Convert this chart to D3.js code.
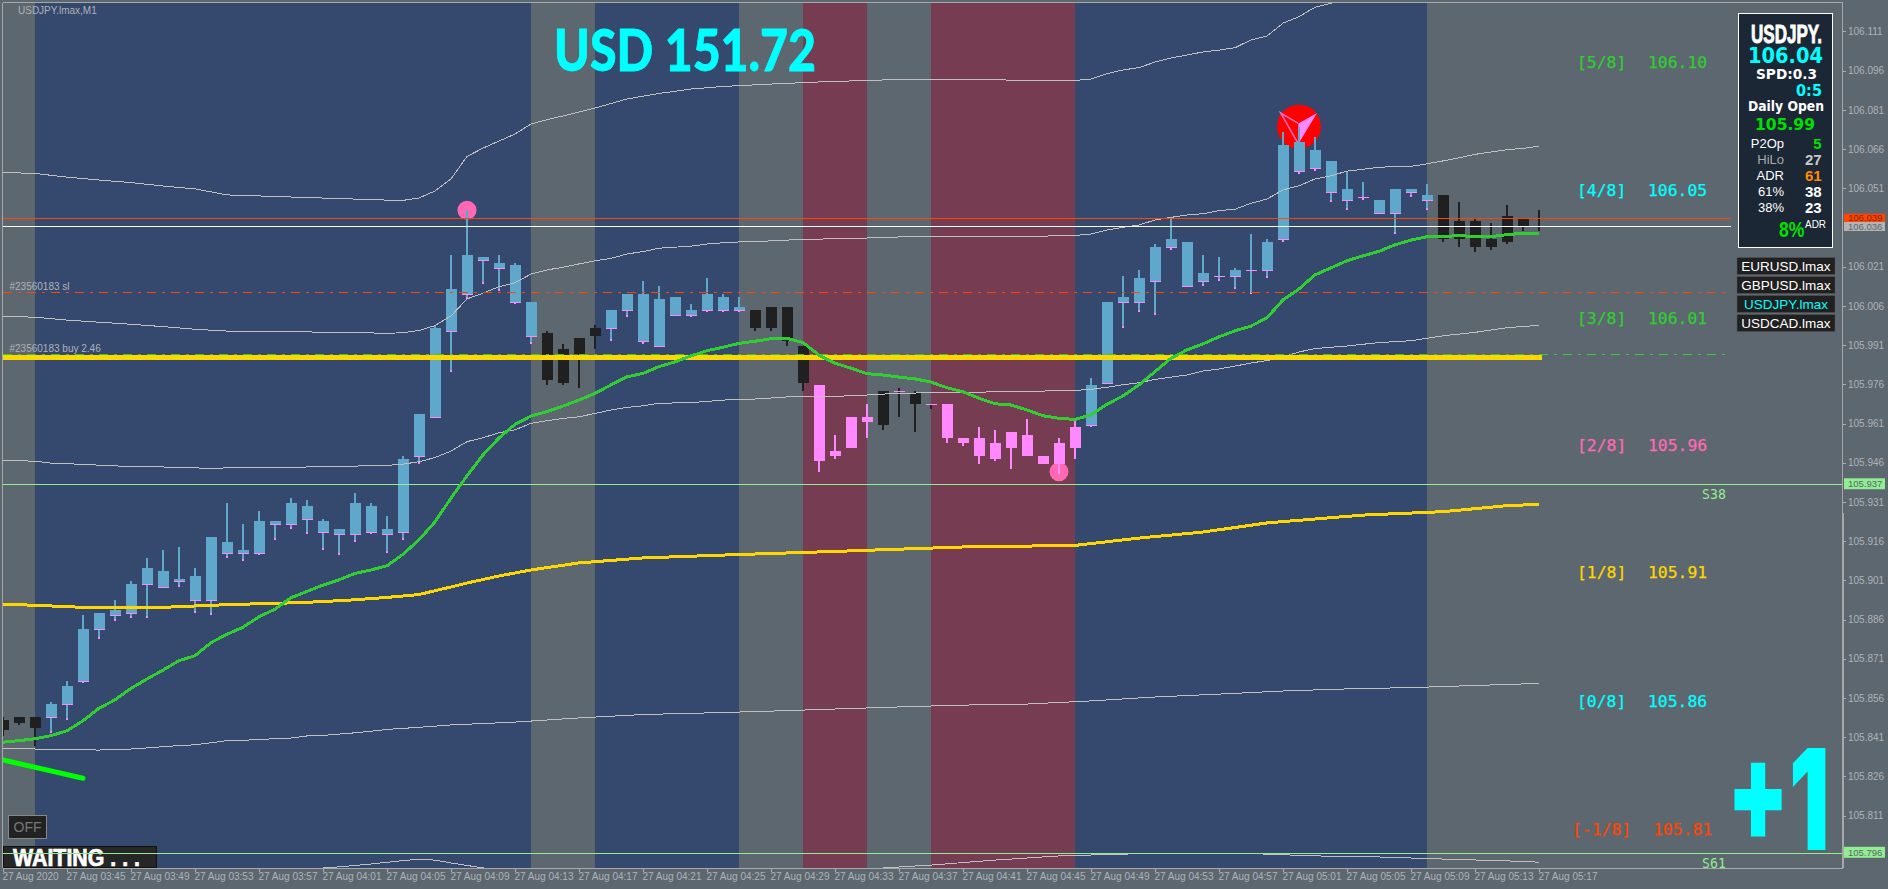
<!DOCTYPE html>
<html><head><meta charset="utf-8">
<script src="https://cdn.jsdelivr.net/npm/d3@7/dist/d3.min.js"></script>
<style>
html,body{margin:0;padding:0;background:#5C6770;overflow:hidden}
svg{display:block}
text{font-family:"Liberation Sans",sans-serif}
.axis path{display:none}
.axis text{font-family:"Liberation Sans",sans-serif;font-size:10px;fill:#AEB3B7}
.axis line{stroke:#A8ADB1;shape-rendering:crispEdges}
</style></head><body>
<script>
// ---------- candle data ----------
const bodyTop=[105.847,105.848,105.848,105.853,105.860,105.882,105.888,105.889,105.899,105.905,105.904,105.901,105.902,105.917,105.915,105.912,105.923,105.923,105.930,105.929,105.923,105.920,105.930,105.929,105.920,105.947,105.964,105.997,106.012,106.025,106.024,106.022,106.021,106.007,105.995,105.989,105.993,105.997,106.004,106.010,106.010,106.008,106.009,106.004,106.010,106.009,106.005,106.004,106.005,106.005,105.990,105.975,105.950,105.963,105.963,105.973,105.973,105.972,105.968,105.968,105.955,105.955,105.953,105.957,105.956,105.948,105.953,105.959,105.975,106.007,106.009,106.016,106.028,106.031,106.030,106.018,106.017,106.019,106.019,106.030,106.067,106.068,106.065,106.061,106.050,106.047,106.046,106.050,106.050,106.048,106.048,106.038,106.038,106.031,106.040,106.039,106.036];
const bodyBot=[105.843,105.846,105.844,105.848,105.853,105.862,105.882,105.887,105.888,105.899,105.898,105.900,105.893,105.893,105.911,105.911,105.911,105.922,105.922,105.924,105.919,105.918,105.918,105.919,105.918,105.919,105.948,105.963,105.996,106.010,106.023,106.020,106.007,105.994,105.977,105.976,105.987,105.994,105.997,106.004,105.992,105.990,106.002,106.002,106.004,106.004,106.004,105.997,105.997,105.992,105.976,105.946,105.948,105.951,105.961,105.960,105.973,105.968,105.968,105.955,105.953,105.948,105.947,105.951,105.948,105.945,105.945,105.951,105.960,105.976,106.007,106.007,106.015,106.028,106.013,106.015,106.017,106.017,106.019,106.019,106.031,106.057,106.058,106.049,106.046,106.047,106.041,106.041,106.049,106.046,106.031,106.031,106.028,106.028,106.030,106.036,106.036];
const high=[105.848,105.848,105.848,105.854,105.862,105.887,105.888,105.893,105.900,105.909,105.912,105.913,105.905,105.917,105.930,105.922,105.927,105.923,105.932,105.931,105.924,105.920,105.934,105.930,105.925,105.948,105.964,105.998,106.025,106.042,106.024,106.025,106.022,106.007,105.996,105.991,105.993,105.998,106.004,106.010,106.015,106.013,106.009,106.006,106.016,106.010,106.009,106.004,106.005,106.005,105.990,105.975,105.956,105.963,105.968,105.973,105.974,105.973,105.968,105.968,105.955,105.959,105.958,105.957,105.962,105.948,105.955,105.962,105.978,106.007,106.017,106.019,106.029,106.039,106.030,106.025,106.024,106.020,106.033,106.031,106.072,106.074,106.070,106.061,106.057,106.053,106.046,106.050,106.050,106.052,106.048,106.045,106.039,106.037,106.044,106.039,106.042];
const low=[105.841,105.845,105.837,105.842,105.847,105.861,105.878,105.885,105.886,105.886,105.898,105.898,105.888,105.887,105.909,105.908,105.910,105.916,105.920,105.918,105.912,105.910,105.915,105.918,105.911,105.916,105.945,105.963,105.980,106.008,106.014,106.011,106.006,105.991,105.975,105.975,105.974,105.989,105.992,106.001,105.991,105.990,106.002,106.001,106.003,106.003,106.003,105.996,105.996,105.990,105.973,105.942,105.947,105.951,105.955,105.958,105.963,105.957,105.966,105.953,105.952,105.945,105.946,105.943,105.948,105.945,105.941,105.947,105.959,105.976,105.997,106.003,106.002,106.027,106.013,106.013,106.015,106.012,106.010,106.016,106.030,106.056,106.057,106.045,106.042,106.046,106.041,106.033,106.047,106.042,106.030,106.028,106.026,106.027,106.029,106.034,106.034];

// ---------- moving average, one value per bar ----------
const greenMA=[105.8385,105.8391,105.8398,105.841,105.8429,105.8467,105.8515,105.8547,105.8591,105.8627,105.8661,105.8697,105.8716,105.8766,105.8798,105.8825,105.8865,105.8894,105.8938,105.8962,105.8986,105.9006,105.9031,105.9044,105.906,105.9104,105.9159,105.9228,105.9319,105.9404,105.9484,105.9549,105.9601,105.9633,105.965,105.9671,105.9694,105.972,105.9752,105.9783,105.9796,105.9822,105.984,105.9863,105.9883,105.9896,105.9911,105.9919,105.9929,105.993,105.9914,105.9866,105.9835,105.9816,105.9795,105.979,105.9782,105.9775,105.9763,105.9741,105.9726,105.9701,105.968,105.9675,105.9656,105.9634,105.9624,105.962,105.9637,105.9678,105.971,105.9752,105.9803,105.9854,105.9886,105.9909,105.9936,105.9959,105.9977,106.0009,106.0077,106.0119,106.0173,106.02,106.0227,106.0246,106.0263,106.0288,106.0306,106.0319,106.0319,106.0324,106.0319,106.0319,106.0327,106.0332,106.0332];

// ---------- slower lines: bar index and price read at that bar ----------
const yellowIdx=[0,2,5,10,13,15,18,20,22,24,26,28,29,31,33,36,40,45,52,60,67,71,75,79,85,90,94,96];
const yellowVal=[105.8913,105.8909,105.8901,105.8901,105.8909,105.8913,105.8918,105.8923,105.893,105.8939,105.895,105.8979,105.8994,105.9021,105.9044,105.9071,105.909,105.9101,105.9115,105.9132,105.9138,105.9166,105.9189,105.9224,105.9254,105.9267,105.929,105.9295];
const bandAIdx=[0,2,4,6,8,10,12,14,16,18,20,22,24,25,26,27,28,29,30,31,32,33,34,35,36,37,39,41,43,45,48,51,54,57,62,63,67,68,69,70,71,72,73,74,75,76,77,78,79,80,81,82,83,84];
const bandAVal=[106.0565,106.0561,106.0547,106.0536,106.0526,106.0513,106.0502,106.0479,106.0475,106.0471,106.0467,106.0463,106.0459,106.0458,106.0467,106.0494,106.054,106.0626,106.0658,106.0685,106.0712,106.075,106.0767,106.0781,106.0796,106.0811,106.0846,106.0867,106.0884,106.0894,106.0903,106.0911,106.0917,106.0922,106.0922,106.0917,106.0917,106.0922,106.0943,106.0957,106.0966,106.0987,106.1003,106.1014,106.1026,106.1033,106.1042,106.1072,106.1087,106.1136,106.1161,106.1197,106.1212,106.1255];
const bandBIdx=[0,2,4,6,8,10,12,14,16,18,20,22,24,25,26,27,28,29,30,31,32,33,34,35,36,37,38,39,40,41,42,43,44,45,46,48,50,52,54,56,60,64,67,68,69,70,71,72,73,74,75,76,77,78,79,80,81,82,83,84,85,86,87,88,89,90,91,92,93,94,95,96];
const bandBVal=[106.0015,106.0011,106.0000,105.9992,105.9984,105.9975,105.9965,105.9958,105.9957,105.9957,105.9953,105.9953,105.9949,105.9952,105.996,105.9979,106.0016,106.0081,106.0103,106.0128,106.0143,106.0176,106.0192,106.0202,106.0215,106.0227,106.0236,106.0253,106.0262,106.0275,106.0279,106.0283,106.0291,106.0296,106.0299,106.0303,106.0309,106.0311,106.0314,106.0318,106.032,106.032,106.0324,106.0329,106.0345,106.0355,106.0364,106.0383,106.0393,106.0402,106.0407,106.0419,106.0424,106.0447,106.0463,106.0498,106.0514,106.054,106.0552,106.057,106.0577,106.0585,106.0587,106.0588,106.0598,106.0609,106.0621,106.0634,106.0643,106.0652,106.0657,106.0665];
const bandCIdx=[0,2,3,5,7,10,12,13,14,18,20,24,25,26,27,28,29,30,31,32,33,34,35,36,37,38,39,40,41,43,45,47,49,51,53,55,57,61,63,66,67,68,69,70,71,72,73,74,75,76,77,78,79,80,81,82,84,86,88,90,92,94,96];
const bandCVal=[105.9464,105.946,105.9453,105.9448,105.9442,105.9438,105.9435,105.9431,105.9435,105.9437,105.9439,105.9444,105.9449,105.9458,105.9474,105.9499,105.9535,105.955,105.9569,105.958,105.9605,105.9615,105.9624,105.963,105.9643,105.9656,105.9666,105.9672,105.9682,105.9684,105.9694,105.9698,105.9706,105.9708,105.971,105.9717,105.9721,105.9724,105.9728,105.9729,105.9731,105.9735,105.9743,105.9753,105.976,105.9773,105.9782,105.979,105.9805,105.9813,105.9824,105.9836,105.9845,105.9859,105.9878,105.9891,105.9901,105.9914,105.9921,105.994,105.9953,105.9971,105.998];
const bandDIdx=[0,2,6,8,9,10,11,12,13,14,15,16,17,18,19,20,21,22,23,24,25,26,28,32,36,40,44,48,52,56,60,64,68,72,76,80,84,88,92,94,96];
const bandDVal=[105.8362,105.8359,105.8355,105.8359,105.8363,105.8368,105.8372,105.8375,105.8383,105.8391,105.8392,105.8396,105.8398,105.8401,105.8409,105.8411,105.8416,105.8421,105.8427,105.8434,105.8438,105.8442,105.8451,105.8462,105.8478,105.8491,105.8497,105.8504,105.8512,105.852,105.8527,105.8531,105.8543,105.8558,105.8569,105.8581,105.8589,105.8594,105.8602,105.8606,105.861];
const bandEIdx=[0,19,20,21,23,25,26,27,28,30,40,50,55,58,62,66,70,74,78,82,86,90,94,96];
const bandEVal=[105.785,105.785,105.7904,105.7908,105.7919,105.7932,105.7937,105.7934,105.7923,105.7904,105.785,105.785,105.7904,105.7915,105.7934,105.795,105.7957,105.7961,105.7959,105.795,105.7946,105.7938,105.7931,105.7926];

// ---------- time zones behind the candles (bar index ranges) ----------
const zoneStart=[0,2,33,37,46,50,54,58,67,89];
const zoneEnd=[2,33,37,46,50,54,58,67,89,116];
const zoneKind=["grey","blue","grey","blue","grey","red","grey","red","blue","grey"];

// ---------- horizontal levels ----------
const lastPrice=106.036, askPrice=106.039, stopPrice=106.0106, entryPrice=105.9869, thickPrice=105.9858;
const s38Price=105.937, s61Price=105.796;
const lineEndIdx=108, fullEndIdx=115, thickEndIdx=96.2;

// ---------- axes ----------
const yTicks=[106.111,106.096,106.081,106.066,106.051,106.021,106.006,105.991,105.976,105.961,105.946,105.931,105.916,105.901,105.886,105.871,105.856,105.841,105.826,105.811];
const xTickIdx=[0,4,8,12,16,20,24,28,32,36,40,44,48,52,56,60,64,68,72,76,80,84,88,92,96];
const xTickLabels=["27 Aug 2020","27 Aug 03:45","27 Aug 03:49","27 Aug 03:53","27 Aug 03:57","27 Aug 04:01","27 Aug 04:05","27 Aug 04:09","27 Aug 04:13","27 Aug 04:17","27 Aug 04:21","27 Aug 04:25","27 Aug 04:29","27 Aug 04:33","27 Aug 04:37","27 Aug 04:41","27 Aug 04:45","27 Aug 04:49","27 Aug 04:53","27 Aug 04:57","27 Aug 05:01","27 Aug 05:05","27 Aug 05:09","27 Aug 05:13","27 Aug 05:17"];

// ---------- Murrey labels ----------
const murreyLabel=["[5/8]","[4/8]","[3/8]","[2/8]","[1/8]","[0/8]","[-1/8]"];
const murreyValue=["106.10","106.05","106.01","105.96","105.91","105.86","105.81"];
const murreyAnchor=[106.0985,106.0498,106.0008,105.952,105.9034,105.8543,105.8053];
const murreyColor=["#32CD32","#00FFFF","#32CD32","#FF69B4","#FFD700","#00FFFF","#FF4500"];

const symbols=["EURUSD.lmax","GBPUSD.lmax","USDJPY.lmax","USDCAD.lmax"];
const statNames=["P2Op","HiLo","ADR","61%","38%"];
const statValues=["5","27","61","38","23"];
const statNameColor=["#fff","#A9A9A9","#fff","#fff","#fff"];
const statValueColor=["#00E000","#C8C8C8","#FF8C00","#fff","#fff"];

const W=1888,H=889;
const x=d3.scaleLinear().domain([0,1]).range([3,19]);
const y=d3.scaleLinear().domain([105.796,106.036]).range([853.3,226]);

const COL={grey:"#5C6770",blue:"#35486E",red:"#763D52",candleBlue:"#5FA8CC",pink:"#FF88FF",black:"#202020",
 green:"#32CD32",gold:"#FFD700",line:"#C0C0C0",lime:"#90EE90",orange:"#FF4500"};

const svg=d3.select("body").append("svg").attr("width",W).attr("height",H);
svg.append("rect").attr("width",W).attr("height",H).attr("fill",COL.grey);
svg.append("clipPath").attr("id","plot").append("rect").attr("x",3).attr("y",3).attr("width",1840).attr("height",865);

const plot=svg.append("g").attr("clip-path","url(#plot)");
// zones
plot.append("g").selectAll("rect").data(zoneKind).join("rect")
 .attr("x",(d,i)=>x(zoneStart[i])).attr("width",(d,i)=>x(zoneEnd[i])-x(zoneStart[i]))
 .attr("y",0).attr("height",H).attr("fill",d=>COL[d]).attr("shape-rendering","crispEdges");

// signal discs behind candles
plot.append("circle").attr("cx",x(29)).attr("cy",y(106.042)).attr("r",9.5).attr("fill","#FF69B4");
plot.append("circle").attr("cx",x(66)).attr("cy",y(105.942)).attr("r",9.5).attr("fill","#FF69B4");
const arrow=plot.append("g").attr("transform",`translate(${x(81)},${y(106.074)})`);
arrow.append("circle").attr("r",22).attr("fill","#FF0000");
arrow.append("path").attr("d","M-0.7,-3.3L18,-13.7L-0.7,17.3Z").attr("fill","#FF88FF");
arrow.append("path").attr("d","M-0.7,-3.3L-18.3,-13.7L-0.7,17.3").attr("fill","none").attr("stroke","#FF69B4").attr("stroke-width",1.6);

// candles
function zoneOf(i){for(let k=0;k<zoneKind.length;k++){if(i<=zoneEnd[k])return zoneKind[k];}return "grey";}
const candleColor={blue:COL.candleBlue,grey:COL.black,red:COL.pink};
const bars=d3.range(bodyTop.length);
const cg=plot.append("g").attr("shape-rendering","crispEdges");
const one=cg.selectAll("g").data(bars).join("g");
one.append("rect").attr("x",i=>x(i)-1).attr("width",2).attr("y",i=>y(high[i])).attr("height",i=>Math.max(1,y(low[i])-y(high[i]))).attr("fill",i=>candleColor[zoneOf(i)]);
one.filter(i=>bodyTop[i]!==bodyBot[i]).append("rect").attr("x",i=>x(i)-5).attr("width",11).attr("y",i=>y(bodyTop[i])).attr("height",i=>y(bodyBot[i])-y(bodyTop[i])).attr("fill",i=>candleColor[zoneOf(i)]);
// pink open tick on blue candles and on flat bars
one.filter(i=>zoneOf(i)==="blue"||bodyTop[i]===bodyBot[i]).append("rect").attr("x",i=>x(i)-5).attr("width",11).attr("y",i=>Math.round(y(bodyBot[i]))-0.5).attr("height",1).attr("fill",COL.pink);
one.filter(i=>zoneOf(i)==="blue"&&low[i]<bodyBot[i]).append("rect").attr("x",i=>x(i)-1).attr("width",2).attr("y",i=>y(low[i])-2).attr("height",2).attr("fill",COL.pink);

// thin envelope lines
const pairs=(idx,val)=>idx.map((d,i)=>[d,val[i]]);
const lineGen=d3.line().x(d=>x(d[0])).y(d=>y(d[1]));
[[bandAIdx,bandAVal],[bandBIdx,bandBVal],[bandCIdx,bandCVal],[bandDIdx,bandDVal],[bandEIdx,bandEVal]].forEach(([a,b])=>{
 plot.append("path").attr("d",lineGen(pairs(a,b))).attr("fill","none").attr("stroke",COL.line).attr("stroke-width",1).attr("shape-rendering","crispEdges");
});
// horizontals
function hline(p,endIdx,col,w,dash){
 const s=plot.append("line").attr("x1",x(0)).attr("x2",x(endIdx)).attr("y1",y(p)).attr("y2",y(p)).attr("stroke",col).attr("stroke-width",w).attr("shape-rendering","crispEdges");
 if(dash)s.attr("stroke-dasharray",dash);
}
hline(askPrice,lineEndIdx,COL.orange,1);
hline(lastPrice,lineEndIdx,"#FFFFFF",1);
hline(stopPrice,lineEndIdx,COL.orange,1,"9,6,3,6");
hline(entryPrice,lineEndIdx,COL.green,1,"9,6,3,6");
hline(thickPrice,thickEndIdx,COL.gold,5);
hline(s38Price,fullEndIdx,COL.lime,1);

// moving averages
plot.append("path").attr("d",lineGen(pairs(yellowIdx,yellowVal))).attr("fill","none").attr("stroke",COL.gold).attr("stroke-width",3).attr("shape-rendering","crispEdges");
plot.append("path").attr("d",lineGen(bars.map(i=>[i,greenMA[i]]))).attr("fill","none").attr("stroke",COL.green).attr("stroke-width",3).attr("shape-rendering","crispEdges");

// lime slash, bottom left
plot.append("line").attr("x1",x(0)).attr("x2",x(5)).attr("y1",y(105.8317)).attr("y2",y(105.8247)).attr("stroke","#00FF00").attr("stroke-width",5).attr("stroke-linecap","round");

// order comments
const note=(t,px,py,col,size)=>svg.append("text").text(t).attr("x",px).attr("y",py).attr("dy",".35em").attr("fill",col).attr("font-size",size);
note("USDJPY.lmax,M1",18,10.7,"#AEB3B7",10);
note("#23560183 sl",9.5,y(stopPrice)-6,"#AEB3B7",10);
note("#23560183 buy 2.46",9.5,y(entryPrice)-6,"#AEB3B7",10);

// title
svg.append("text").text("USD 151.72").attr("x",554).attr("y",71).attr("fill","#00FFFF").attr("stroke","#00FFFF").attr("stroke-width",0.8)
 .attr("font-size",58).attr("font-weight",900).style("font-family","Lato").attr("textLength",262).attr("lengthAdjust","spacingAndGlyphs");

// Murrey labels
const mono='"DejaVu Sans Mono",monospace';
const mg=svg.append("g");
murreyLabel.forEach((t,i)=>{
 const neg=t.length>5;
 mg.append("text").text(t).attr("x",neg?1572:1577).attr("y",y(murreyAnchor[i])).attr("dy",".35em").attr("fill",murreyColor[i]).attr("stroke",murreyColor[i]).attr("stroke-width",0.25).attr("font-size",16.4).style("font-family",mono);
 mg.append("text").text(murreyValue[i]).attr("x",neg?1653:1648).attr("y",y(murreyAnchor[i])).attr("dy",".35em").attr("fill",murreyColor[i]).attr("stroke",murreyColor[i]).attr("stroke-width",0.25).attr("font-size",16.4).style("font-family",mono);
});
mg.append("text").text("S38").attr("x",1702).attr("y",y(s38Price)+10).attr("dy",".35em").attr("fill",COL.lime).attr("font-size",13.2).style("font-family",mono);
mg.append("text").text("S61").attr("x",1702).attr("y",y(s61Price)+10).attr("dy",".35em").attr("fill",COL.lime).attr("font-size",13.2).style("font-family",mono);

// OFF and WAITING
svg.append("rect").attr("x",8.5).attr("y",815.5).attr("width",38).attr("height",23).attr("fill","#222").attr("stroke","#888");
svg.append("text").text("OFF").attr("x",27.5).attr("y",827).attr("dy",".35em").attr("text-anchor","middle").attr("fill","#777").attr("font-size",14);
svg.append("rect").attr("x",3.5).attr("y",846.5).attr("width",153).attr("height",21).attr("fill","#262626").attr("stroke","#111");
svg.append("text").text("WAITING . . .").attr("x",13).attr("y",866).attr("fill","#fff").attr("stroke","#fff").attr("stroke-width",0.7).attr("font-size",23).attr("font-weight",700)
 .style("font-family",'"Liberation Sans Narrow","Liberation Sans"').attr("textLength",127).attr("lengthAdjust","spacingAndGlyphs");
svg.append("g").attr("clip-path","url(#plot)").append("line").attr("x1",x(0)).attr("x2",x(fullEndIdx)).attr("y1",y(s61Price)).attr("y2",y(s61Price)).attr("stroke",COL.lime).attr("shape-rendering","crispEdges");

// big +1, squeezed the way the reference glyphs are
svg.append("text").text("+1").attr("transform","translate(1727,850) scale(0.64,1)").attr("fill","#00FFFF").attr("font-size",140).attr("font-weight",900)
 .style("font-family",'Inter,"Liberation Sans"');

// frame
const fr=svg.append("g").attr("shape-rendering","crispEdges").attr("stroke","#A8A8A8").attr("fill","none");
fr.append("line").attr("x1",2.5).attr("x2",1842.5).attr("y1",2.5).attr("y2",2.5);
fr.append("line").attr("x1",2.5).attr("x2",2.5).attr("y1",2.5).attr("y2",868);
fr.append("line").attr("x1",2.5).attr("x2",1842.5).attr("y1",868.5).attr("y2",868.5);
fr.append("line").attr("x1",1842.5).attr("x2",1842.5).attr("y1",2.5).attr("y2",513);
fr.append("line").attr("x1",1843).attr("x2",1843).attr("y1",513).attr("y2",868).attr("stroke-width",2);

// axes
const yAxis=d3.axisRight(y).tickValues(yTicks).tickFormat(d3.format(".3f")).tickSize(3).tickPadding(2);
svg.append("g").attr("class","axis").attr("transform","translate(1843,1.5)").call(yAxis);
const xAxis=d3.axisBottom(x).tickValues(xTickIdx).tickFormat((d,i)=>xTickLabels[i]).tickSize(4).tickPadding(0);
const gx=svg.append("g").attr("class","axis").attr("transform","translate(0,868)").call(xAxis);
gx.selectAll("text").attr("text-anchor","start").attr("dx","-1").attr("y",5);

// price tags
function tag(p,off,bg,fg,h){
 svg.append("rect").attr("x",1844).attr("y",y(p)-h/2+off).attr("width",41).attr("height",h).attr("fill",bg);
 svg.append("text").text(p.toFixed(3)).attr("x",1848).attr("y",y(p)+off).attr("dy",".35em").attr("fill",fg).attr("font-size",9.5);
}
tag(askPrice,0,"#FF4500","#7a2a10",9);
tag(lastPrice,0.5,"#B4B4B4","#5C6770",9);
tag(s38Price,-1,COL.lime,"#5C6770",11);
tag(s61Price,-1,COL.lime,"#5C6770",11);

// info panel
const px=svg.append("g");
px.append("rect").attr("x",1738.5).attr("y",13.5).attr("width",94).attr("height",234).attr("fill","#1B2735").attr("stroke","#fff");
const dj='"DejaVu Sans"';
function pt(t,xx,yy,size,col,len,fam,weight,anchor){
 const s=px.append("text").text(t).attr("x",xx).attr("y",yy).attr("font-size",size).attr("fill",col).attr("font-weight",weight||700).style("font-family",fam||dj);
 if(len)s.attr("textLength",len).attr("lengthAdjust","spacingAndGlyphs");
 if(anchor)s.attr("text-anchor",anchor);
 return s;
}
px.append("text").text("USDJPY.").attr("transform","translate(1751,42.7) scale(0.655,1)").attr("font-size",26).attr("font-weight",700).attr("fill","#fff").attr("stroke","#fff").attr("stroke-width",0.9);
pt("106.04",1748,63.3,21,"#00FFFF",75);
pt("SPD:0.3",1756,79,13.5,"#fff",61);
pt("0:5",1796,96,16,"#00FFFF",26);
pt("Daily Open",1748,110.7,14,"#fff",76);
pt("105.99",1755,130,16.5,"#00E000",60);
statNames.forEach((n,i)=>{
 const yy=143.3+i*16;
 pt(n,1784,yy,13,statNameColor[i],null,'"Liberation Sans"',400,"end").attr("dy",".35em");
 pt(statValues[i],1821.7,yy,15,statValueColor[i],null,'"Liberation Sans"',700,"end").attr("dy",".35em");
});
px.append("text").text("8%").attr("transform","translate(1779,237.3) scale(0.8,1)").attr("font-size",22).attr("font-weight",700).attr("fill","#00E000");
pt("ADR",1805,228,11,"#fff",21,'"Liberation Sans"',400);

// symbol buttons
symbols.forEach((s,i)=>{
 const yy=257.5+i*19;
 svg.append("rect").attr("x",1737).attr("y",yy).attr("width",98).attr("height",17).attr("fill","#202020").attr("stroke","#555").attr("stroke-width",.5);
 svg.append("text").text(s).attr("x",1786).attr("y",yy+8.5).attr("dy",".35em").attr("text-anchor","middle").attr("fill",i===2?"#00FFFF":"#fff").attr("font-size",13.5);
});
</script></body></html>
